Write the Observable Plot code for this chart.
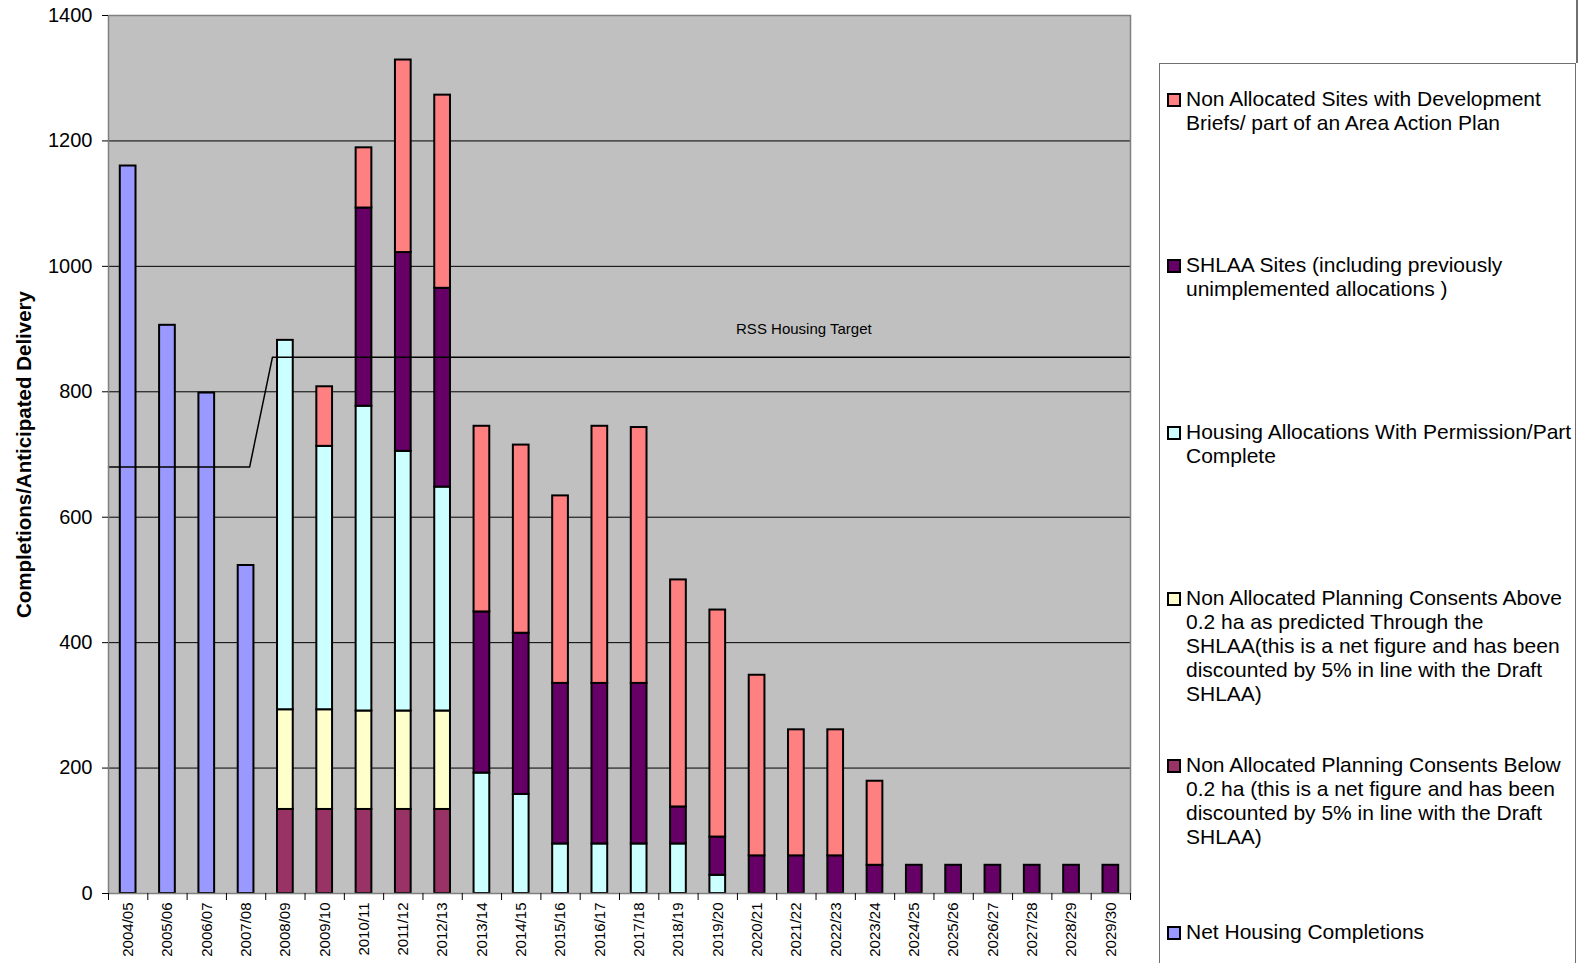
<!DOCTYPE html>
<html>
<head>
<meta charset="utf-8">
<script src="https://cdn.jsdelivr.net/npm/d3@7"></script>
<script src="https://cdn.jsdelivr.net/npm/@observablehq/plot@0.6"></script>
<style>
  html, body { margin: 0; padding: 0; background: #fff; }
  #wrap { position: relative; width: 1581px; height: 963px; overflow: hidden; font-family: "Liberation Sans", Arial, sans-serif; }
  #legend { position: absolute; left: 1159px; top: 63px; width: 417px; height: 960px; border: 1.5px solid #707070; background: #fff; box-sizing: border-box; }
  #vline { position: absolute; left: 1576px; top: 0; width: 1.5px; height: 63px; background: #707070; }
  .entry { position: absolute; left: 7px; font-size: 21px; line-height: 24px; color: #000; }
  .sw { position: absolute; left: 0; top: 6px; width: 10px; height: 10px; border: 2px solid #000; }
  .tx { position: absolute; left: 19px; white-space: nowrap; }
</style>
</head>
<body>
<div id="wrap">
  <div id="chart"></div>
  <div id="vline"></div>
  <div id="legend"></div>
</div>
<script>
const categories = ["2004/05","2005/06","2006/07","2007/08","2008/09","2009/10","2010/11","2011/12","2012/13","2013/14","2014/15","2015/16","2016/17","2017/18","2018/19","2019/20","2020/21","2021/22","2022/23","2023/24","2024/25","2025/26","2026/27","2027/28","2028/29","2029/30"];

// series, bottom to top
const netCompletions = [1160, 906, 798, 523, 0,0,0,0,0, 0,0,0,0,0,0,0,0,0,0,0,0,0,0,0,0,0];
const belowConsents  = [0,0,0,0, 134,134,134,134,134, 0,0,0,0,0,0,0,0,0,0,0,0,0,0,0,0,0];
const aboveConsents  = [0,0,0,0, 159,159,157,157,157, 0,0,0,0,0,0,0,0,0,0,0,0,0,0,0,0,0];
const allocations    = [0,0,0,0, 589,420,486,414,357, 192,158,79,79,79,79,29, 0,0,0,0,0,0,0,0,0,0];
const shlaa          = [0,0,0,0, 0,0,316,317,317, 257,257,256,256,256,59,61, 60,60,60,45,45,45,45,45,45,45];
const nonAllocBriefs = [0,0,0,0, 0,95,96,307,308, 296,300,299,410,408,362,362, 288,201,201,134,0,0,0,0,0,0];

const seriesNames = [
  "Net Housing Completions",
  "Non Allocated Planning Consents Below 0.2 ha (this is a net figure and has been discounted by 5% in line with the Draft SHLAA)",
  "Non Allocated Planning Consents Above 0.2 ha as predicted Through the SHLAA(this is a net figure and has been discounted by 5% in line with the Draft SHLAA)",
  "Housing Allocations With Permission/Part Complete",
  "SHLAA Sites (including previously unimplemented allocations )",
  "Non Allocated Sites with Development Briefs/ part of an Area Action Plan"
];
const seriesColors = ["#9999FF", "#993366", "#FFFFCC", "#CCFFFF", "#660066", "#FF8080"];
const seriesValues = [netCompletions, belowConsents, aboveConsents, allocations, shlaa, nonAllocBriefs];

// legend text lines (top entry first)
const legendLines = [
  ["Non Allocated Sites with Development", "Briefs/ part of an Area Action Plan"],
  ["SHLAA Sites (including previously", "unimplemented allocations )"],
  ["Housing Allocations With Permission/Part", "Complete"],
  ["Non Allocated Planning Consents Above", "0.2 ha as predicted Through the", "SHLAA(this is a net figure and has been", "discounted by 5% in line with the Draft", "SHLAA)"],
  ["Non Allocated Planning Consents Below", "0.2 ha (this is a net figure and has been", "discounted by 5% in line with the Draft", "SHLAA)"],
  ["Net Housing Completions"]
];
const legendColors = ["#FF8080", "#660066", "#CCFFFF", "#FFFFCC", "#993366", "#9999FF"];

// RSS housing target line (x in category-slot units, y in dwellings)
const targetX = [0, 3.59, 4.17, 26];
const targetY = [680, 680, 855, 855];
const targetLabel = "RSS Housing Target";
const targetLabelPos = {x: 17.69, y: 900};

const yTicks = [0, 200, 400, 600, 800, 1000, 1200, 1400];

const rows = [];
seriesValues.forEach((vals, s) => {
  vals.forEach((v, i) => {
    if (v > 0) rows.push({x1: i + 0.3, x2: i + 0.7, value: v, series: seriesNames[s]});
  });
});
const targetRows = targetX.map((x, k) => ({x, y: targetY[k]}));

const chart = Plot.plot({
  width: 1581,
  height: 963,
  marginLeft: 108,
  marginRight: 451,
  marginTop: 15,
  marginBottom: 70,
  style: {fontFamily: "'Liberation Sans', Arial, sans-serif", background: "transparent", color: "#000"},
  x: {domain: [0, 26], label: null},
  y: {domain: [0, 1400], label: null},
  color: {domain: seriesNames, range: seriesColors},
  marks: [
    Plot.frame({fill: "#C0C0C0"}),
    Plot.ruleY(yTicks.slice(1, -1), {stroke: "#000", strokeWidth: 1}),
    Plot.rectY(rows, Plot.stackY({x1: "x1", x2: "x2", y: "value", fill: "series", stroke: "#000", strokeWidth: 2})),
    Plot.line(targetRows, {x: "x", y: "y", stroke: "#000", strokeWidth: 1.5}),
    Plot.text([targetLabel], {x: [targetLabelPos.x], y: [targetLabelPos.y], text: d => d, fontSize: 15, fill: "#000"}),
    Plot.frame({stroke: "#808080", strokeWidth: 1.5}),
    Plot.axisY({ticks: yTicks, tickSize: 6, tickPadding: 10, fontSize: 20, tickFormat: d => String(d), label: null, stroke: "#000"}),
    Plot.axisX({ticks: d3.range(0, 27), tickSize: 7, tickFormat: () => "", label: null, stroke: "#000"}),
    Plot.axisX({ticks: d3.range(26).map(i => i + 0.5), tickSize: 0, tickPadding: 9, tickRotate: -90, fontSize: 15, tickFormat: v => categories[Math.floor(v)], label: null}),
    Plot.text(["Completions/Anticipated Delivery"], {frameAnchor: "left", dx: -84, rotate: -90, textAnchor: "middle", fontSize: 20.5, fontWeight: "bold", fill: "#000"})
  ]
});
document.getElementById("chart").appendChild(chart);

const legend = document.getElementById("legend");
const entryCenters = [98.5, 265, 431.7, 598.3, 765, 931.5];
legendLines.forEach((lines, k) => {
  const e = document.createElement("div");
  e.className = "entry";
  e.style.top = (entryCenters[k] - 13 - 63) + "px";
  const sw = document.createElement("div");
  sw.className = "sw";
  sw.style.background = legendColors[k];
  const tx = document.createElement("div");
  tx.className = "tx";
  tx.innerHTML = lines.join("<br>");
  e.appendChild(sw);
  e.appendChild(tx);
  legend.appendChild(e);
});
</script>
</body>
</html>
